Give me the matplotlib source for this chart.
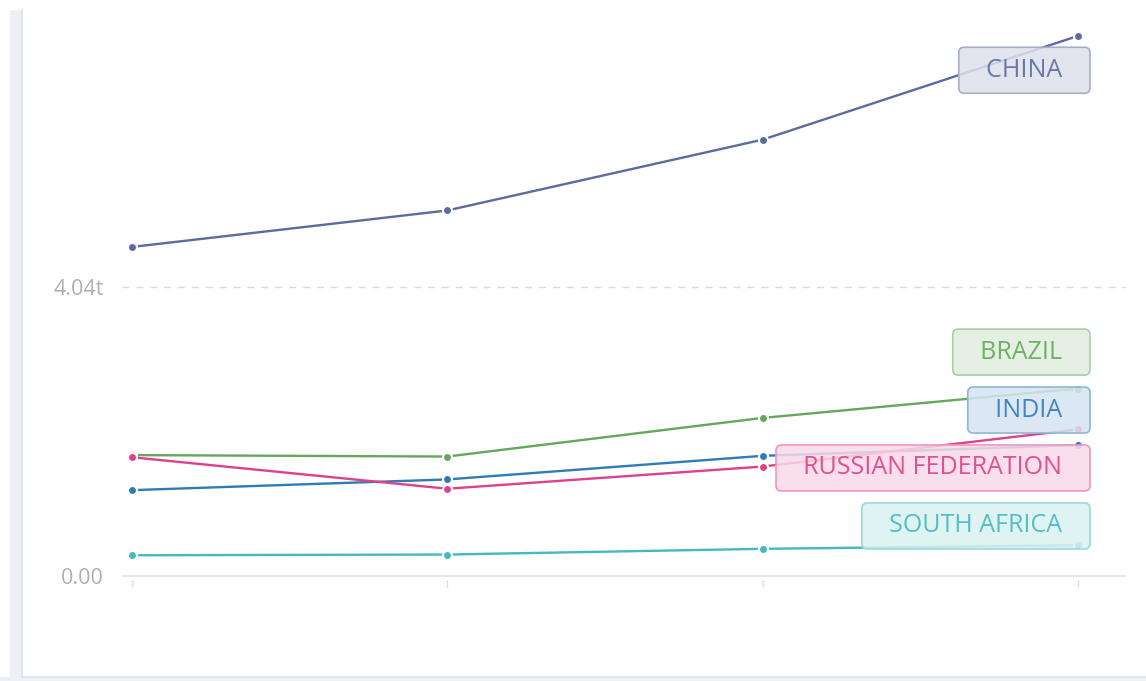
import matplotlib
matplotlib.use('Agg')
import matplotlib.pyplot as plt
from matplotlib.patches import Rectangle
from matplotlib.colors import to_rgb

plt.rcParams['font.family'] = ['Open Sans', 'DejaVu Sans']

# GDP, trillions (x axis has no labels in the reference)
years = [0, 1, 2, 3]
countries = ['CHINA', 'BRAZIL', 'INDIA', 'RUSSIAN FEDERATION', 'SOUTH AFRICA']
china = [4.60, 5.11, 6.10, 7.55]
brazil = [1.69, 1.67, 2.21, 2.62]
india = [1.20, 1.35, 1.68, 1.83]
russia = [1.66, 1.22, 1.53, 2.05]
south_africa = [0.29, 0.30, 0.38, 0.43]
series = [china, brazil, india, russia, south_africa]
colors = ['#5b6b9f', '#63a85b', '#2f7bb8', '#e0408a', '#45b8c0']
ytick_vals = [0, 4.04]
ytick_labels = ['0.00', '4.04t']

# where the name boxes sit (layout only)
label_y = [7.07, 3.13, 2.32, 1.51, 0.70]

W, H = 1146, 681
fig = plt.figure(figsize=(W / 100, H / 100), dpi=100)
fig.patch.set_facecolor('white')

# card background bits
fig.patches.append(Rectangle((10 / W, 0), 12 / W, 1 - 10 / H, transform=fig.transFigure,
                             facecolor='#eef0f5', edgecolor='none', zorder=0))
fig.patches.append(Rectangle((0, 0), 1, 4 / H, transform=fig.transFigure,
                             facecolor='#eef0f5', edgecolor='none', zorder=0))
fig.lines.append(plt.Line2D([22 / W, 22 / W], [4 / H, 1 - 10 / H], transform=fig.transFigure,
                            color='#dfe2ea', lw=1.2))
fig.lines.append(plt.Line2D([22 / W, 1], [4 / H, 4 / H], transform=fig.transFigure,
                            color='#dfe2ea', lw=1.2))

# axes box: x 122..1126 px, y 10..610 px
left, right, top, bottom = 122, 1126, 10, 610
ax = fig.add_axes([left / W, 1 - bottom / H, (right - left) / W, (bottom - top) / H])
ax.set_facecolor('none')

px_per_x = (1078 - 132) / 3
ax.set_xlim(-(132 - left) / px_per_x, (right - 132) / px_per_x)
per_px = 4.04 / (576 - 287)
ax.set_ylim(-(bottom - 576) * per_px, (576 - top) * per_px)

for s in ax.spines.values():
    s.set_visible(False)

ax.axhline(0, color='#e4e4e4', lw=1.2, zorder=1)
ax.axhline(4.04, color='#d9d9d9', lw=1, ls=(0, (5, 5)), zorder=1)

ax.set_xticks(years)
ax.set_xticklabels([])
ax.tick_params(axis='x', length=5, width=1, color='#dcdcdc', pad=0)
ax.spines['bottom'].set_position(('data', -0.06))

ax.set_yticks(ytick_vals)
ax.set_yticklabels(ytick_labels)
ax.tick_params(axis='y', length=0, pad=13, labelsize=15.5, labelcolor='#b0b0b0')

for name, vals, c in zip(countries, series, colors):
    ax.plot(years, vals, color=c, lw=1.7, zorder=3, marker='o', ms=6.5,
            markeredgecolor='white', markeredgewidth=1.5)

label_x = (1079.5 - 132) / px_per_x
for name, ly, c in zip(countries, label_y, colors):
    r, g, b = to_rgb(c)
    fill = (0.2 * r + 0.8, 0.2 * g + 0.8, 0.2 * b + 0.8, 0.86)
    edge = (0.55 * r + 0.45, 0.55 * g + 0.45, 0.55 * b + 0.45)
    txt = (0.92 * r + 0.08, 0.92 * g + 0.08, 0.92 * b + 0.08)
    ax.text(label_x, ly, '\u2009  ' + name + '  \u2009', ha='right', va='center', fontsize=18,
            color=txt, zorder=5, family=['Open Sans', 'DejaVu Sans'],
            bbox=dict(boxstyle='round,pad=0.42,rounding_size=0.22', fc=fill, ec=edge, lw=1.2))

fig.savefig('out.png', dpi=100)
